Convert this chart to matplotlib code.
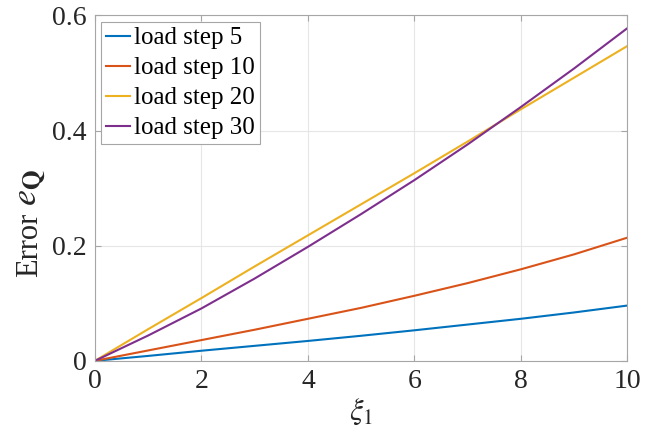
import matplotlib
matplotlib.use('Agg')
import matplotlib.pyplot as plt
import numpy as np

plt.rcParams['font.family'] = ['Liberation Serif', 'DejaVu Serif']
plt.rcParams['mathtext.fontset'] = 'stix'

xi = [0, 1, 2, 3, 4, 5, 6, 7, 8, 9, 10]
step5 = [0, 0.0085, 0.0175, 0.026, 0.0345, 0.0435, 0.053, 0.063, 0.073, 0.084, 0.096]
step10 = [0, 0.018, 0.036, 0.054, 0.073, 0.092, 0.113, 0.135, 0.159, 0.185, 0.214]
step20 = [0, 0.055, 0.109, 0.164, 0.218, 0.272, 0.326, 0.381, 0.437, 0.492, 0.547]
step30 = [0, 0.044, 0.091, 0.143, 0.198, 0.255, 0.314, 0.376, 0.441, 0.508, 0.578]
labels = ['load step 5', 'load step 10', 'load step 20', 'load step 30']
colors = ['#0072BD', '#D95319', '#EDB120', '#7E2F8E']

fig = plt.figure(figsize=(6.55, 4.4), dpi=100)
ax = fig.add_axes([0.145, 0.18, 0.813, 0.785])

for ys, lab, c in zip([step5, step10, step20, step30], labels, colors):
    ax.plot(xi, ys, color=c, lw=1.5, label=lab)

ax.set_xlim(0, 10)
ax.set_ylim(0, 0.6)
ax.set_xticks([0, 2, 4, 6, 8, 10])
ax.set_yticks([0, 0.2, 0.4, 0.6])
ax.set_yticklabels(['0', '0.2', '0.4', '0.6'])
ax.grid(True, color='#e6e6e6', lw=0.8)
ax.set_axisbelow(True)
for s in ax.spines.values():
    s.set_color('#a6a6a6')
    s.set_linewidth(0.8)
ax.tick_params(direction='in', length=4, color='#a6a6a6', labelsize=20,
               labelcolor='#262626', top=True, right=True, pad=6)
ax.set_xlabel(r'$\xi_1$', fontsize=22, color='#262626', labelpad=2)

# y label: plain "Error" plus a larger math part, as in the original
fig.text(0.0565, 0.37, 'Error', fontsize=22, color='#262626', rotation=90,
         rotation_mode='anchor', ha='left', va='baseline')
fig.text(0.0565, 0.532, r'$e_{\mathbf{Q}}$', fontsize=26, color='#262626', rotation=90,
         rotation_mode='anchor', ha='left', va='baseline')

leg = ax.legend(loc='upper left', fontsize=18, handlelength=0.95, handletextpad=0.15,
                labelspacing=0.3, borderpad=0.2, borderaxespad=0.26, fancybox=False,
                framealpha=1, edgecolor='#a6a6a6')
leg.get_frame().set_linewidth(0.8)

fig.savefig('out.png', dpi=100)
